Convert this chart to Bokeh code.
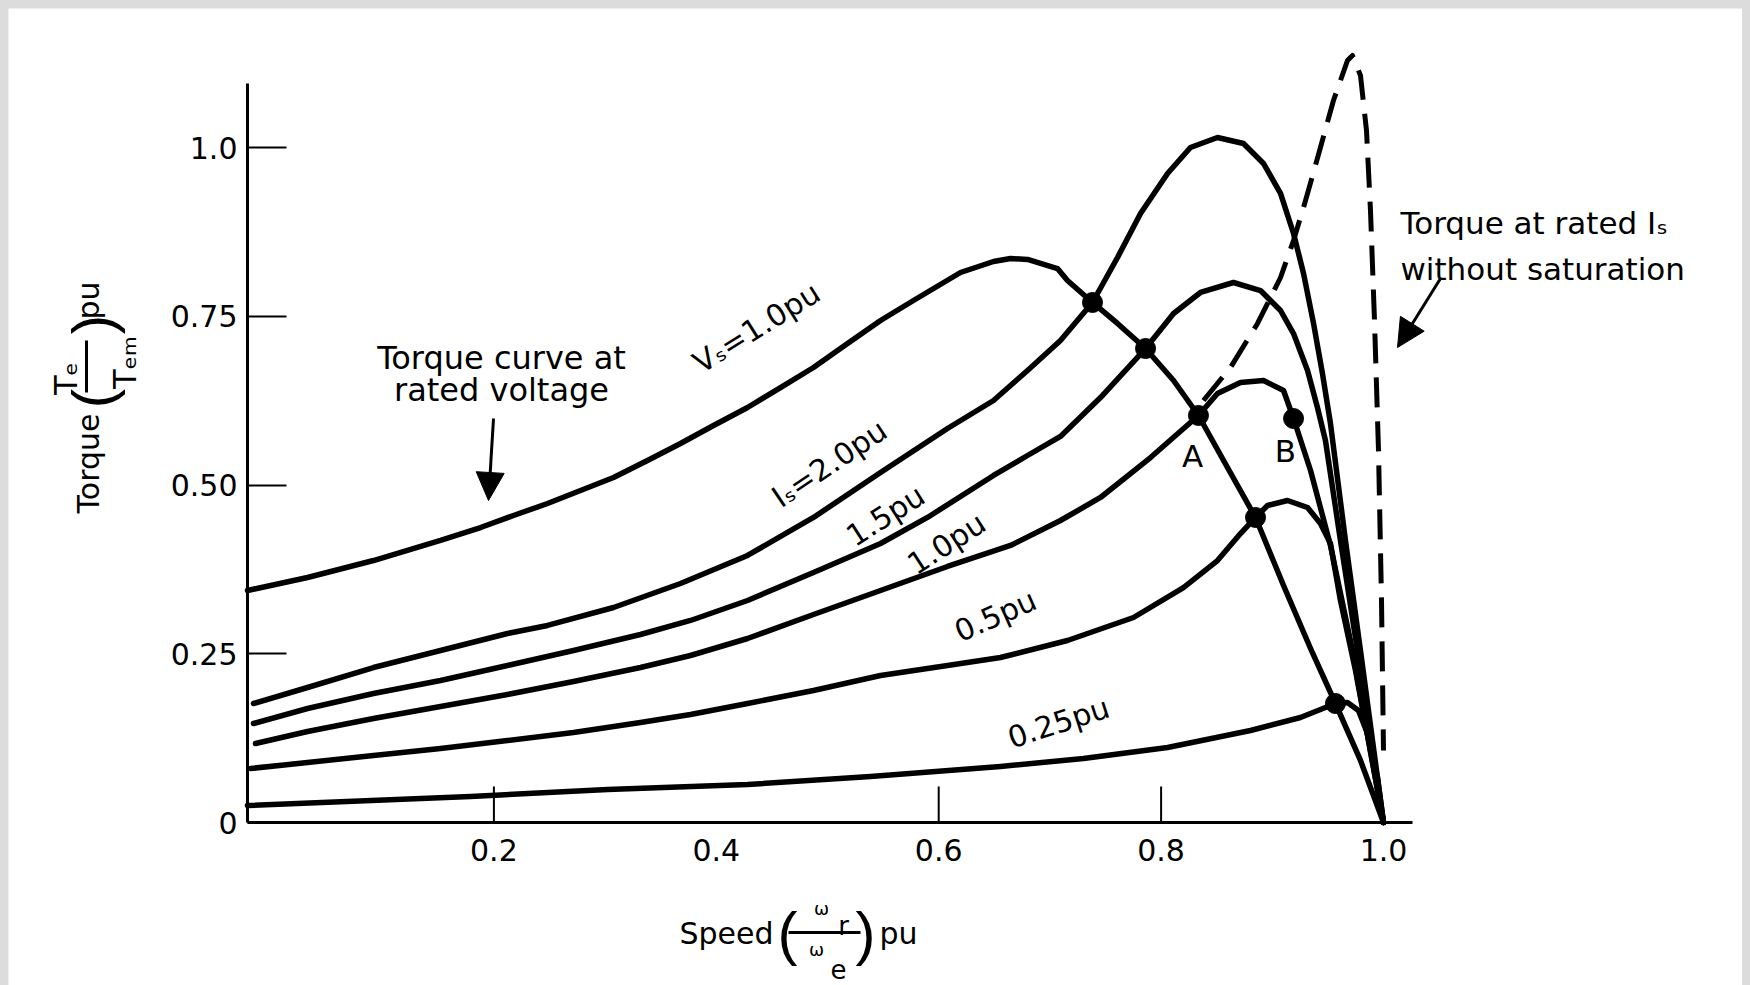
import math
from bokeh.plotting import figure
from bokeh.models import Range1d, FixedTicker, Label, Arrow, NormalHead, NumeralTickFormatter
from bokeh.embed import file_html
from bokeh.resources import INLINE

# ---------------- data (speed pu, torque pu) ----------------
vs_speed = [-0.0216, 0.0324, 0.0917, 0.1520, 0.1880, 0.2176, 0.2482, 0.2779, 0.3076, 0.3381,
            0.3678, 0.3975, 0.4281, 0.4577, 0.4874, 0.5180, 0.5477, 0.5773, 0.6196, 0.6493,
            0.6646, 0.6799, 0.7068, 0.7158, 0.7383, 0.7608, 0.7860, 0.8112, 0.8336, 0.8597,
            0.8849, 0.9101, 0.9344, 0.9568, 0.9793, 1.0]
vs_torque = [0.3437, 0.3630, 0.3881, 0.4178, 0.4370, 0.4548, 0.4726, 0.4919, 0.5111, 0.5363,
             0.5615, 0.5881, 0.6148, 0.6444, 0.6741, 0.7096, 0.7437, 0.7733, 0.8148, 0.8311,
             0.8356, 0.8341, 0.8207, 0.8030, 0.7704, 0.7393, 0.7022, 0.6548, 0.6030, 0.5259,
             0.4519, 0.3511, 0.2578, 0.1763, 0.0919, 0.0]

is20_speed = [-0.0162, 0.0324, 0.0917, 0.1520, 0.2122, 0.2482, 0.3076, 0.3678, 0.4281, 0.4874,
              0.5477, 0.6079, 0.6493, 0.6799, 0.7095, 0.7383, 0.7608, 0.7815, 0.8058, 0.8264,
              0.8507, 0.8741, 0.8921, 0.9074, 0.9191, 0.9281, 0.9371, 0.9451, 0.9523, 0.9658,
              0.9793, 0.9901, 1.0]
is20_torque = [0.1763, 0.2000, 0.2296, 0.2548, 0.2800, 0.2919, 0.3185, 0.3541, 0.3956, 0.4519,
               0.5185, 0.5837, 0.6252, 0.6696, 0.7141, 0.7704, 0.8370, 0.9022, 0.9615, 1.0000,
               1.0148, 1.0059, 0.9763, 0.9319, 0.8726, 0.8133, 0.7393, 0.6652, 0.5911, 0.4178,
               0.2548, 0.1215, 0.0]

is15_speed = [-0.0162, 0.0324, 0.0917, 0.1520, 0.2122, 0.2716, 0.3318, 0.3768, 0.4281, 0.4874,
              0.5477, 0.5899, 0.6493, 0.6799, 0.7095, 0.7455, 0.7860, 0.8112, 0.8354, 0.8651,
              0.8894, 0.9074, 0.9191, 0.9317, 0.9406, 0.9478, 0.9613, 0.9766, 0.9883, 1.0]
is15_torque = [0.1467, 0.1689, 0.1911, 0.2104, 0.2326, 0.2548, 0.2785, 0.2993, 0.3289, 0.3704,
               0.4133, 0.4519, 0.5141, 0.5437, 0.5719, 0.6296, 0.7022, 0.7541, 0.7852, 0.8000,
               0.7881, 0.7585, 0.7244, 0.6696, 0.6148, 0.5659, 0.4178, 0.2548, 0.1215, 0.0]

is10_speed = [-0.0144, 0.0324, 0.0917, 0.1520, 0.2122, 0.2716, 0.3318, 0.3768, 0.4281, 0.4874,
              0.5477, 0.6079, 0.6646, 0.7095, 0.7455, 0.7905, 0.8336, 0.8507, 0.8714, 0.8921,
              0.9101, 0.9191, 0.9344, 0.9523, 0.9721, 0.9865, 1.0]
is10_torque = [0.1170, 0.1348, 0.1541, 0.1719, 0.1896, 0.2089, 0.2296, 0.2474, 0.2726, 0.3081,
               0.3437, 0.3793, 0.4104, 0.4474, 0.4815, 0.5407, 0.6030, 0.6356, 0.6519, 0.6548,
               0.6400, 0.5985, 0.5215, 0.4104, 0.2548, 0.1215, 0.0]

is05_speed = [-0.0189, 0.0324, 0.0917, 0.1520, 0.2122, 0.2716, 0.3318, 0.3768, 0.4281, 0.4874,
              0.5477, 0.6079, 0.6556, 0.7158, 0.7752, 0.8201, 0.8507, 0.8714, 0.8849, 0.8957,
              0.9137, 0.9317, 0.9433, 0.9523, 0.9613, 0.9748, 0.9865, 1.0]
is05_torque = [0.0800, 0.0889, 0.0993, 0.1096, 0.1215, 0.1333, 0.1481, 0.1600, 0.1763, 0.1956,
               0.2178, 0.2326, 0.2444, 0.2696, 0.3037, 0.3481, 0.3881, 0.4281, 0.4519, 0.4696,
               0.4770, 0.4667, 0.4430, 0.4133, 0.3289, 0.2252, 0.1215, 0.0]

is025_speed = [-0.0216, 0.1790, 0.3022, 0.4281, 0.5387, 0.6556, 0.7302, 0.8058, 0.8804, 0.9253,
               0.9568, 0.9676, 0.9775, 0.9856, 0.9946, 1.0]
is025_torque = [0.0252, 0.0385, 0.0489, 0.0563, 0.0681, 0.0830, 0.0948, 0.1111, 0.1363, 0.1556,
                0.1763, 0.1778, 0.1659, 0.1319, 0.0667, 0.0]

nosat_speed = [0.8381, 0.8624, 0.8867, 0.9074, 0.9191, 0.9299, 0.9433, 0.9550, 0.9676, 0.9721,
               0.9793, 0.9847, 0.9883, 0.9919, 0.9955, 0.9982, 1.0]
nosat_torque = [0.6252, 0.6741, 0.7393, 0.8074, 0.8622, 0.9215, 1.0000, 1.0696, 1.1289, 1.1363,
                1.1067, 1.0252, 0.9067, 0.7437, 0.5511, 0.3289, 0.1067]

dot_speed = [0.7383, 0.7860, 0.8336, 0.9191, 0.8849, 0.9568]
dot_torque = [0.7704, 0.7022, 0.6030, 0.5985, 0.4519, 0.1763]

x_tick_values = [0.2, 0.4, 0.6, 0.8, 1.0]
x_tick_marks = [0.2, 0.6, 0.8]
y_tick_values = [0, 0.25, 0.5, 0.75, 1.0]
y_tick_labels = ["0", "0.25", "0.50", "0.75", "1.0"]

# ---------------- layout helpers ----------------
PX0, PXS = 271.0, 1112.0   # page pixel of speed 0, pixels per pu
PY0, PYS = 822.0, 675.0    # page pixel of torque 0, pixels per pu


def at(px, py):
    return (px - PX0) / PXS, (PY0 - py) / PYS


W, H = 1734, 977
X_AXIS0 = (247 - PX0) / PXS
FONT = "DejaVu Sans"

p = figure(width=W, height=H, output_backend="svg", toolbar_location=None,
           x_range=Range1d((8 - PX0) / PXS, (8 + W - PX0) / PXS),
           y_range=Range1d((PY0 - 8 - H) / PYS, (PY0 - 8) / PYS),
           min_border=0, min_border_left=0, min_border_right=0,
           min_border_top=0, min_border_bottom=0)
p.outline_line_color = None
p.background_fill_color = "white"
p.border_fill_color = "white"
p.grid.visible = False

# axes drawn at fixed data locations
p.xaxis.fixed_location = 0
p.yaxis.fixed_location = X_AXIS0

p.xaxis.ticker = FixedTicker(ticks=x_tick_values)
p.xaxis.formatter = NumeralTickFormatter(format="0.0")
p.xaxis.bounds = (X_AXIS0, 1.026)
p.xaxis.major_tick_line_color = None
p.xaxis.minor_tick_line_color = None
p.xaxis.major_label_standoff = 10

p.yaxis.ticker = FixedTicker(ticks=y_tick_values)
p.yaxis.major_label_overrides = {v: s for v, s in zip(y_tick_values, y_tick_labels)}
p.yaxis.bounds = (0, 1.095)
p.yaxis.major_tick_in = 39
p.yaxis.major_tick_out = 0
p.yaxis.major_tick_line_width = 2
p.yaxis.major_tick_line_color = "black"
p.yaxis.minor_tick_line_color = None
p.yaxis.major_label_standoff = 10

for ax in (p.xaxis, p.yaxis):
    ax.axis_line_width = 3
    ax.axis_line_color = "black"
    ax.major_label_text_font = FONT
    ax.major_label_text_font_size = "30px"
    ax.major_label_text_color = "black"

# x tick marks (inside)
p.segment(x0=x_tick_marks, y0=[0] * len(x_tick_marks), x1=x_tick_marks,
          y1=[36 / PYS] * len(x_tick_marks), line_color="black", line_width=2)

# curves
for xs, ys in [(vs_speed, vs_torque), (is20_speed, is20_torque), (is15_speed, is15_torque),
               (is10_speed, is10_torque), (is05_speed, is05_torque), (is025_speed, is025_torque)]:
    p.line(xs, ys, line_color="black", line_width=5.5, line_join="round", line_cap="round")

p.line(nosat_speed, nosat_torque, line_color="black", line_width=5, line_dash="30 14",
       line_join="round")
p.scatter(dot_speed, dot_torque, size=20, color="black")


def lab(text, px, py, size=30, angle=0, align="center", baseline="middle", font=FONT):
    x, y = at(px, py)
    p.add_layout(Label(x=x, y=y, text=text, text_font=font, text_font_size=f"{size}px",
                       angle=math.radians(angle), text_align=align, text_baseline=baseline,
                       text_color="black"))


def bar(px0, py0, px1, py1):
    x0, y0 = at(px0, py0)
    x1, y1 = at(px1, py1)
    p.segment(x0=[x0], y0=[y0], x1=[x1], y1=[y1], line_color="black", line_width=3)


# curve labels
lab("Vₛ=1.0pu", 756, 327, angle=32)
lab("Iₛ=2.0pu", 829, 463, angle=34)
lab("1.5pu", 885, 515, angle=32.5)
lab("1.0pu", 946, 543, angle=33)
lab("0.5pu", 995, 615, angle=24)
lab("0.25pu", 1058, 722, angle=18)
lab("A", 1192, 455, size=31)
lab("B", 1285, 450, size=31)

# annotations
lab("Torque curve at", 501, 357, size=32, baseline="alphabetic")
lab("rated voltage", 501, 389, size=32, baseline="alphabetic")
lab("Torque at rated Iₛ", 1400, 222, size=31, align="left", baseline="alphabetic")
lab("without saturation", 1400, 268, size=31, align="left", baseline="alphabetic")

for (tx, ty), (hx, hy) in [((493, 418), (488, 500)), ((1440, 278), (1397, 347))]:
    sx, sy = at(tx, ty)
    ex, ey = at(hx, hy)
    p.add_layout(Arrow(x_start=sx, y_start=sy, x_end=ex, y_end=ey, line_width=3, line_color="black",
                       end=NormalHead(size=28, fill_color="black", line_color="black")))

# y axis title (rotated, built from pieces)
R = 90
PAREN = "Liberation Sans"
lab("Torque", 88, 463, angle=R, baseline="alphabetic")
lab("(", 92, 398, size=58, angle=R, font=PAREN)
lab("Tₑ", 65, 378, size=32, angle=R, baseline="alphabetic")
bar(86, 392, 86, 340)
lab("Tₑₘ", 124, 362, size=32, angle=R, baseline="alphabetic")
lab(")", 92, 324, size=58, angle=R, font=PAREN)
lab("pu", 88, 300, angle=R, baseline="alphabetic")

# x axis title
lab("Speed", 726, 933, baseline="alphabetic")
lab("(", 787, 933, size=60, font=PAREN)
lab("ω", 821, 908, size=18)
lab("r", 843, 925, size=26, baseline="alphabetic")
bar(788, 932, 860, 932)
lab("ω", 816, 949, size=18)
lab("e", 838, 968, size=26, baseline="alphabetic")
lab(")", 865, 933, size=60, font=PAREN)
lab("pu", 898, 933, baseline="alphabetic")

html = file_html(p, INLINE)
css = ("<style>html, body { background-color: #dcdcdc; overflow: hidden; } "
       "body { margin: 8px 8px 0 8px; }</style>\n</head>")
html = html.replace("</head>", css, 1)
open("out.html", "w").write(html)
